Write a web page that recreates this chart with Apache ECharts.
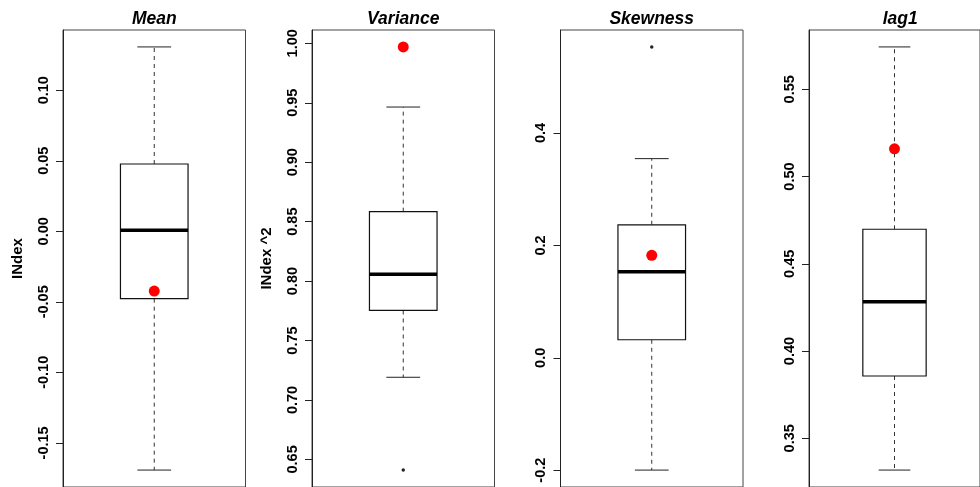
<!DOCTYPE html>
<html>
<head>
<meta charset="utf-8">
<script src="https://cdn.jsdelivr.net/npm/echarts@6/dist/echarts.min.js"></script>
<style>
html,body{margin:0;padding:0;background:#fff;}
#chart{width:980px;height:487px;}
</style>
</head>
<body>
<div id="chart"></div>
<script>
// ---- data ----
const titles = ['Mean', 'Variance', 'Skewness', 'lag1'];
const yNames = ['INdex', 'INdex ^2', '', ''];
const lowerWhisker = [-0.1693, 0.7191, -0.1998, 0.3318];
const lowerHinge   = [-0.0478, 0.7753, 0.0321, 0.3857];
const medians      = [0.0007, 0.8058, 0.1533, 0.4283];
const upperHinge   = [0.0477, 0.8584, 0.2367, 0.4698];
const upperWhisker = [0.1307, 0.9464, 0.3544, 0.5743];
const outliers     = [[], [0.641], [0.5532], []];
const highlight    = [-0.0424, 0.997, 0.1823, 0.5159];
const tickLabels = [
  ['-0.15', '-0.10', '-0.05', '0.00', '0.05', '0.10'],
  ['0.65', '0.70', '0.75', '0.80', '0.85', '0.90', '0.95', '1.00'],
  ['-0.2', '0.0', '0.2', '0.4'],
  ['0.35', '0.40', '0.45', '0.50', '0.55']
];
const yMin = [-0.1813, 0.6268, -0.2299, 0.3221];
const yMax = [0.1427, 1.0112, 0.5833, 0.5840];

// ---- layout ----
const FONT = 'Liberation Sans, Arial, Helvetica, sans-serif';
const lefts = [63, 312, 560.5, 809];
const W = 182.5, TOP = 30, H = 459;

const chart = echarts.init(document.getElementById('chart'), null, {renderer: 'canvas'});

const grids = [], xAxes = [], yAxes = [], series = [], titleOpts = [];
titles.forEach((t, i) => {
  grids.push({left: lefts[i], top: TOP, width: W, height: H, show: true,
    borderColor: '#444', borderWidth: 1, backgroundColor: 'transparent', containLabel: false});
  xAxes.push({type: 'value', gridIndex: i, min: 0.46, max: 1.54, show: false});
  const vals = tickLabels[i].map(Number);
  const labs = tickLabels[i];
  yAxes.push({
    type: 'value', gridIndex: i, min: yMin[i], max: yMax[i],
    name: yNames[i], nameLocation: 'middle', nameRotate: 90, nameGap: 38,
    nameTextStyle: {fontFamily: FONT, fontWeight: 'bold', fontSize: 15, color: '#000'},
    splitLine: {show: false},
    axisLine: {show: true, lineStyle: {color: '#222', width: 1}},
    axisTick: {show: true, length: 7, customValues: vals, lineStyle: {color: '#222', width: 1}},
    axisLabel: {show: true, rotate: 90, margin: 12, customValues: vals,
      formatter: v => { const k = vals.findIndex(x => Math.abs(x - v) < 1e-9); return k >= 0 ? labs[k] : ''; },
      fontFamily: FONT, fontWeight: 'bold', fontSize: 14.5, color: '#000'}
  });
  titleOpts.push({text: t, left: lefts[i] + W / 2, top: 10.5, textAlign: 'center', padding: 0,
    textStyle: {fontFamily: FONT, fontWeight: 'bold', fontStyle: 'italic', fontSize: 17.5, color: '#000'}});

  series.push({
    type: 'custom', xAxisIndex: i, yAxisIndex: i, clip: false, silent: true,
    data: [[1, lowerWhisker[i], lowerHinge[i], medians[i], upperHinge[i], upperWhisker[i]]],
    renderItem: (params, api) => {
      const x = api.value(0);
      const lw = api.value(1), q1 = api.value(2), md = api.value(3), q3 = api.value(4), uw = api.value(5);
      const c = (xx, yy) => api.coord([xx, yy]);
      const bl = c(x - 0.2, q1), tr = c(x + 0.2, q3);
      const mL = c(x - 0.2, md), mR = c(x + 0.2, md);
      const wTop = c(x, uw), wQ3 = c(x, q3), wQ1 = c(x, q1), wBot = c(x, lw);
      const capTL = c(x - 0.1, uw), capTR = c(x + 0.1, uw);
      const capBL = c(x - 0.1, lw), capBR = c(x + 0.1, lw);
      const dash = {stroke: '#333', lineWidth: 1, lineDash: [4, 4], fill: null};
      const solid = {stroke: '#222', lineWidth: 1, fill: null};
      return {type: 'group', children: [
        {type: 'line', shape: {x1: wQ3[0], y1: wQ3[1], x2: wTop[0], y2: wTop[1]}, style: dash},
        {type: 'line', shape: {x1: wQ1[0], y1: wQ1[1], x2: wBot[0], y2: wBot[1]}, style: dash},
        {type: 'line', shape: {x1: capTL[0], y1: capTL[1], x2: capTR[0], y2: capTR[1]}, style: solid},
        {type: 'line', shape: {x1: capBL[0], y1: capBL[1], x2: capBR[0], y2: capBR[1]}, style: solid},
        {type: 'rect', shape: {x: bl[0], y: tr[1], width: tr[0] - bl[0], height: bl[1] - tr[1]},
          style: {fill: '#fff', stroke: '#111', lineWidth: 1.2}},
        {type: 'line', shape: {x1: mL[0], y1: mL[1], x2: mR[0], y2: mR[1]},
          style: {stroke: '#000', lineWidth: 3.5}}
      ]};
    },
    z: 2
  });
  if (outliers[i].length) {
    series.push({type: 'scatter', xAxisIndex: i, yAxisIndex: i, silent: true,
      data: outliers[i].map(v => [1, v]), symbol: 'circle', symbolSize: 3.5,
      itemStyle: {color: '#222', opacity: 1}, z: 3});
  }
  series.push({type: 'scatter', xAxisIndex: i, yAxisIndex: i, silent: true,
    data: [[1, highlight[i]]], symbol: 'circle', symbolSize: 11,
    itemStyle: {color: '#ff0000', opacity: 1}, z: 4});
});

chart.setOption({
  animation: false,
  backgroundColor: '#fff',
  title: titleOpts,
  grid: grids,
  xAxis: xAxes,
  yAxis: yAxes,
  series: series
});
</script>
</body>
</html>
